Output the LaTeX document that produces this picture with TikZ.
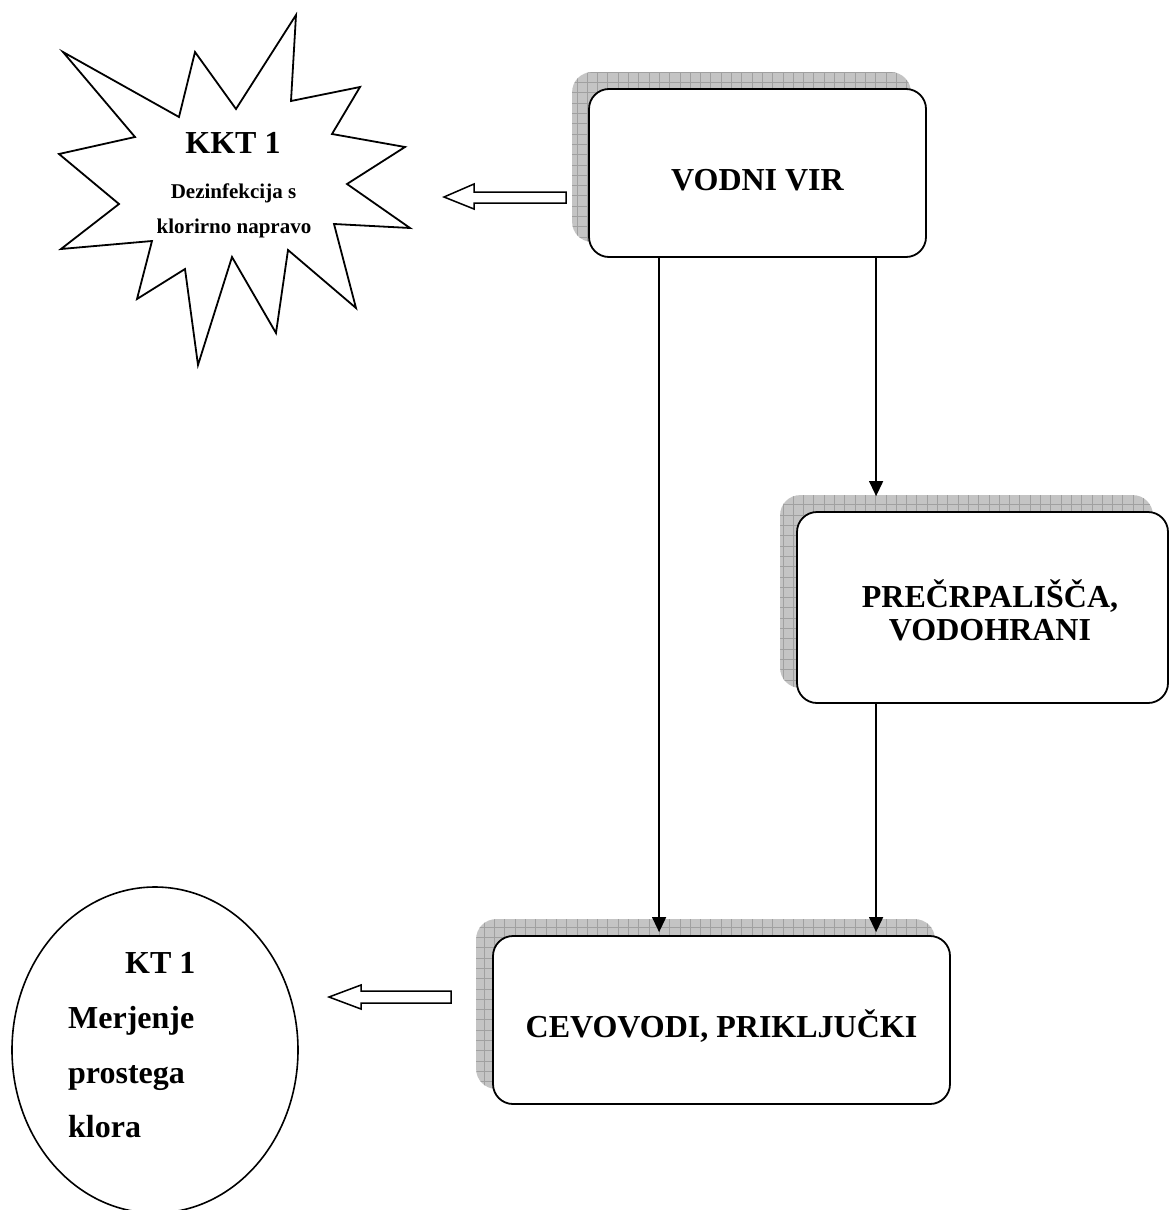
\documentclass[tikz,border=0pt]{standalone}
\usepackage{fontspec}
\setmainfont{Liberation Serif}
\usetikzlibrary{arrows.meta,calc,shapes.geometric,backgrounds}
\definecolor{shfill}{HTML}{C4C4C4}
\definecolor{shgrid}{HTML}{A0A0A0}
\tikzset{
  box/.style={draw,line width=1.8pt,rounded corners=20pt,fill=white,inner sep=0pt},
  conn/.style={line width=1.3pt,-{Triangle[width=14pt,length=15pt]}},
  plainline/.style={line width=1.3pt},
  blockarrow/.style={draw,line width=1.5pt,fill=white,line join=miter},
  burst/.style={draw,line width=1.8pt,fill=white,line join=miter},
  bigtxt/.style={font=\bfseries\fontsize{32}{30}\selectfont,inner sep=0pt},
  smalltxt/.style={font=\bfseries\fontsize{21}{24}\selectfont,inner sep=0pt},
}
\newcommand\boxshadow[1]{%
  \coordinate (#1sa) at ($(#1.south west)+(-16,-16)$);
  \coordinate (#1sb) at ($(#1.north east)+(-16,-16)$);
  \fill[shfill,rounded corners=20pt] (#1sa) rectangle (#1sb);
  \begin{scope}
    \clip[rounded corners=20pt] (#1sa) rectangle (#1sb);
    \draw[shgrid,line width=0.6pt] (#1sa) grid[step=10.3pt] (#1sb);
  \end{scope}}
\begin{document}
\begin{tikzpicture}[x=1pt,y=-1pt]
\useasboundingbox (0,0) rectangle (1170,1210);

% boxes
\node[box,minimum width=337pt,minimum height=168pt] (v) at (757.5,173) {};
\node[box,minimum width=371pt,minimum height=191pt] (p) at (982.5,607.5) {};
\node[box,minimum width=457pt,minimum height=168pt] (c) at (721.5,1020) {};

\begin{pgfonlayer}{background}
  \boxshadow{v}
  \boxshadow{p}
  \boxshadow{c}
\end{pgfonlayer}

\node[bigtxt,anchor=base] (vtxt) at (757.5,190) {VODNI VIR};
\node[bigtxt,anchor=base] (ptxt1) at (990,607) {PREČRPALIŠČA,};
\node[bigtxt,anchor=base] (ptxt2) at (990,640) {VODOHRANI};
\node[bigtxt,anchor=base] (ctxt) at (721.5,1037) {CEVOVODI, PRIKLJUČKI};

% connectors
\draw[conn] ($(v.south west)+(71,0)$) -- ($(c.north west)+(167,-3)$);
\draw[conn] ($(v.south west)+(288,0)$) -- ($(p.north west)+(80,-15)$);
\draw[plainline] ($(p.south west)+(80,0)$) -- ($(c.north west)+(384,-18)$);
\draw[conn] ($(c.north west)+(384,-18)$) -- ($(c.north west)+(384,-3)$);

% starburst KKT 1
\coordinate (kkt) at (233,190);
\draw[burst] (63,52) -- (179,117) -- (195,52) -- (236,109) -- (296,15) -- (291,101)
  -- (360,87) -- (332,134) -- (405,147) -- (347,184) -- (410,228) -- (334,224)
  -- (356,308) -- (288,250) -- (276,333) -- (232,257) -- (198,365) -- (185,269)
  -- (137,299) -- (152,241) -- (61,249) -- (119,204) -- (59,154) -- (135,137) -- cycle;
\node[bigtxt,anchor=base] (kkt1) at (233,153) {KKT 1};
\node[smalltxt,anchor=base] (kkt2) at (233.5,198) {Dezinfekcija s};
\node[smalltxt,anchor=base] (kkt3) at (234,233) {klorirno napravo};

% block arrow to starburst
\draw[blockarrow] (566,192) -- (474,192) -- (474,184) -- (444,197) -- (474,209)
  -- (474,203) -- (566,203) -- cycle;

% ellipse KT 1
\node[ellipse,draw,line width=1.6pt,minimum width=286pt,minimum height=326pt,inner sep=0pt] (kt) at (155,1050) {};
\node[bigtxt,anchor=base west] (kt1) at (125,973) {KT 1};
\node[bigtxt,anchor=base west] (kt2) at (68,1028) {Merjenje};
\node[bigtxt,anchor=base west] (kt3) at (68,1083) {prostega};
\node[bigtxt,anchor=base west] (kt4) at (68,1137) {klora};

% block arrow to ellipse
\draw[blockarrow] (451,991) -- (361,991) -- (361,985) -- (329,997) -- (361,1009)
  -- (361,1003) -- (451,1003) -- cycle;
\end{tikzpicture}
\end{document}
